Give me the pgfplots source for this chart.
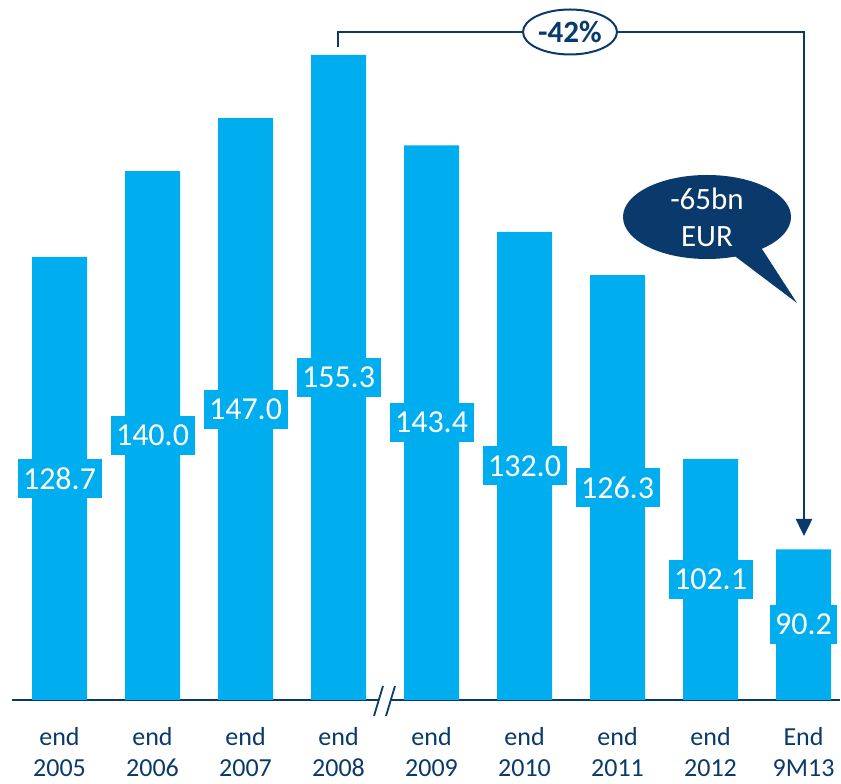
\documentclass[border=0pt]{standalone}
\usepackage{fontspec}
\setmainfont{Carlito}
\usepackage{pgfplots}
\pgfplotsset{compat=1.18}
\usetikzlibrary{arrows.meta,shapes.geometric}
\definecolor{barc}{HTML}{00AEEF}
\definecolor{navy}{HTML}{0A3A6B}
\begin{document}
\begin{tikzpicture}[x=1pt,y=1pt]
\begin{axis}[
 at={(0,0)}, anchor=south west,
 scale only axis, width=828pt, height=700pt,
 xmin=-0.511, xmax=8.392, ymin=70.36, ymax=162.54,
 hide y axis,
 axis x line*=bottom,
 x axis line style={navy, line width=2pt, -},
 xtick={0,...,8},
 xticklabels={{end\\2005},{end\\2006},{end\\2007},{end\\2008},{end\\2009},{end\\2010},{end\\2011},{end\\2012},{End\\9M13}},
 major tick length=0pt,
 xticklabel style={align=center, font=\fontsize{26}{31}\selectfont, text=navy, anchor=north, inner sep=0pt, yshift=-27pt},
 clip=false,
]
\addplot[ybar, bar width=55pt, bar shift=0pt, fill=barc, draw=none,
 point meta=explicit symbolic,
 nodes near coords,
 visualization depends on={rawy \as \rawy},
 every node near coord/.append style={anchor=center, yshift={-(\rawy-70.36)*3.797pt}, fill=barc, text=white, font=\fontsize{32}{32}\selectfont, inner xsep=5.5pt, inner ysep=0pt, minimum height=39pt}
] coordinates {
 (0,128.7) [128.7]
 (1,140.0) [140.0]
 (2,147.0) [147.0]
 (3,155.3) [155.3]
 (4,143.4) [143.4]
 (5,132.0) [132.0]
 (6,126.3) [126.3]
 (7,102.1) [102.1]
 (8,90.2) [90.2]
};
\end{axis}
% axis break
\fill[white] (367,-2.5) rectangle (379,2.5);
\draw[navy, line width=1.8pt] (362,-16) -- (371,14);
\draw[navy, line width=1.8pt] (374,-16) -- (383,14);
% bracket
\draw[navy, line width=2.5pt, -{Triangle[length=17pt,width=16pt]}] (326,653) -- (326,668) -- (792,668) -- (792,164);
\node[ellipse, draw=navy, line width=2pt, fill=white, minimum width=94pt, minimum height=45pt, inner sep=0pt, text=navy, font=\bfseries\fontsize{31}{31}\selectfont] at (558,668) {-42\%};
% speech bubble
\fill[navy] (720,446) -- (785,397) -- (750,451) -- cycle;
\fill[navy] (695,483) ellipse [x radius=84pt, y radius=42pt];
\node[align=center, text=white, font=\fontsize{31}{37}\selectfont] at (695,483) {-65bn\\EUR};
\pgfresetboundingbox
\useasboundingbox (-12pt,-84pt) rectangle (829pt,700pt);
\end{tikzpicture}
\end{document}
